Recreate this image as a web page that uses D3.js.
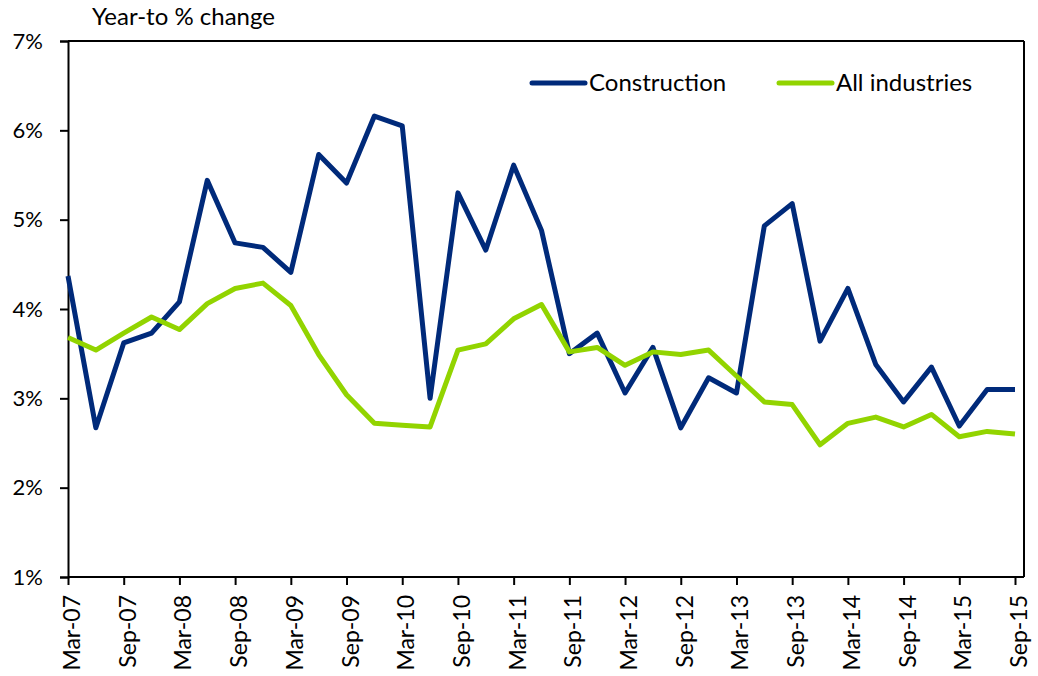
<!DOCTYPE html>
<html>
<head>
<meta charset="UTF-8">
<script src="https://d3js.org/d3.v7.min.js"></script>
<style>
  body { margin: 0; background: #fff; font-family: Lato, "Open Sans", sans-serif; }
  svg text { fill: #000; }
</style>
</head>
<body>
<svg width="1038" height="676"></svg>
<script>
const quarters = [
  "Mar-07","Jun-07","Sep-07","Dec-07","Mar-08","Jun-08","Sep-08","Dec-08",
  "Mar-09","Jun-09","Sep-09","Dec-09","Mar-10","Jun-10","Sep-10","Dec-10",
  "Mar-11","Jun-11","Sep-11","Dec-11","Mar-12","Jun-12","Sep-12","Dec-12",
  "Mar-13","Jun-13","Sep-13","Dec-13","Mar-14","Jun-14","Sep-14","Dec-14",
  "Mar-15","Jun-15","Sep-15"
];
const construction = [
  4.37, 2.67, 3.62, 3.73, 4.08, 5.44, 4.74, 4.69,
  4.41, 5.73, 5.41, 6.16, 6.05, 3.00, 5.30, 4.66,
  5.61, 4.88, 3.50, 3.73, 3.06, 3.57, 2.67, 3.23,
  3.06, 4.93, 5.18, 3.64, 4.23, 3.38, 2.96, 3.35,
  2.69, 3.10, 3.10
];
const allIndustries = [
  3.68, 3.54, 3.73, 3.91, 3.77, 4.06, 4.23, 4.29,
  4.04, 3.49, 3.04, 2.72, 2.70, 2.68, 3.54, 3.61,
  3.89, 4.05, 3.52, 3.57, 3.37, 3.52, 3.49, 3.54,
  3.25, 2.96, 2.93, 2.48, 2.72, 2.79, 2.68, 2.82,
  2.57, 2.63, 2.60
];
const yTicks = [1, 2, 3, 4, 5, 6, 7];
const seriesNames = ["Construction", "All industries"];
const colors = ["#002a7a", "#92d400"];

const svg = d3.select("svg");
const plotL = 68, plotR = 1024, plotT = 41, plotB = 577;

const x = d3.scalePoint().domain(quarters).range([plotL, 1015]);
const y = d3.scaleLinear().domain([1, 7]).range([plotB, plotT]);

// frame
svg.append("line").attr("x1", plotL).attr("x2", plotR).attr("y1", plotT).attr("y2", plotT)
  .attr("stroke", "#000").attr("stroke-width", 2);
svg.append("line").attr("x1", plotR).attr("x2", plotR).attr("y1", plotT).attr("y2", plotB)
  .attr("stroke", "#000").attr("stroke-width", 2);

const yAxis = svg.append("g")
  .attr("transform", `translate(${plotL},0)`)
  .call(d3.axisLeft(y).tickValues(yTicks).tickFormat(d => d + "%").tickSize(8).tickPadding(17));
yAxis.select(".domain").attr("stroke-width", 2);
yAxis.selectAll(".tick line").attr("stroke-width", 2);
yAxis.selectAll("text").style("font-size", "22px").style("font-family", "Lato");

const xAxis = svg.append("g")
  .attr("transform", `translate(0,${plotB})`)
  .call(d3.axisBottom(x).tickValues(quarters.filter((d, i) => i % 2 === 0)).tickSize(8).tickSizeOuter(0));
xAxis.select(".domain").attr("d", `M${plotL},0H${plotR}`).attr("stroke-width", 2);
xAxis.selectAll(".tick line").attr("stroke-width", 2);
xAxis.selectAll("text")
  .style("font-size", "23px").style("font-family", "Lato")
  .attr("transform", "rotate(-90)")
  .attr("text-anchor", "end")
  .attr("x", -18).attr("y", 0).attr("dy", "0.5em");

// title
svg.append("text").attr("x", 92).attr("y", 25)
  .style("font-size", "24px").text("Year-to % change");

const line = d3.line().x((d, i) => x(quarters[i])).y(d => y(d));
[construction, allIndustries].forEach((s, k) => {
  svg.append("path").datum(s)
    .attr("d", line)
    .attr("fill", "none")
    .attr("stroke", colors[k])
    .attr("stroke-width", 5)
    .attr("stroke-linejoin", "round");
});

// legend
const legendX = [532, 779];
seriesNames.forEach((n, k) => {
  const g = svg.append("g").attr("transform", `translate(${legendX[k]},83)`);
  g.append("line").attr("x1", 0).attr("x2", 53).attr("stroke", colors[k])
    .attr("stroke-width", 5).attr("stroke-linecap", "round");
  g.append("text").attr("x", 57).attr("dy", "0.35em").style("font-size", "24px").text(n);
});
</script>
</body>
</html>
